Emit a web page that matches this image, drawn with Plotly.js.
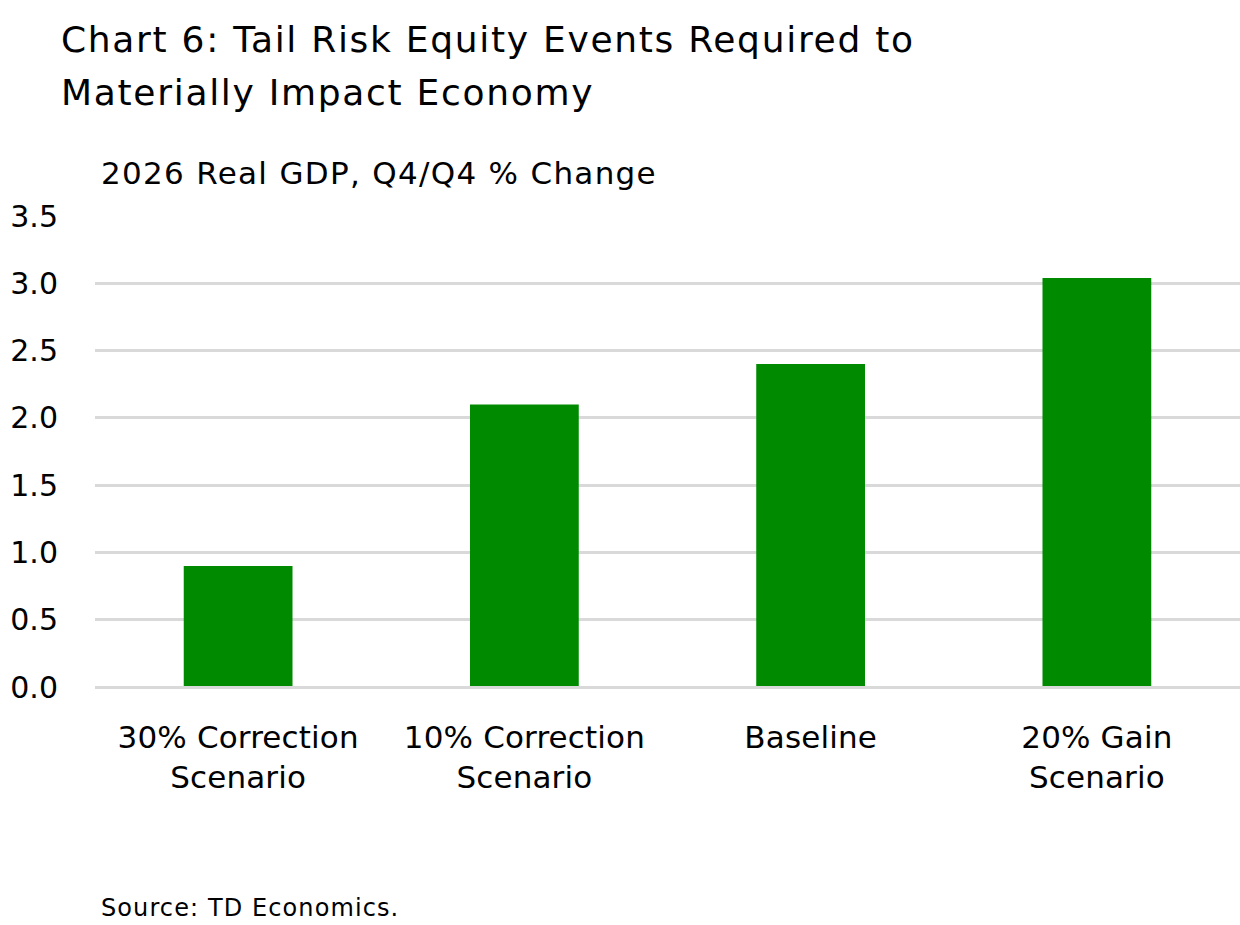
<!DOCTYPE html>
<html>
<head>
<meta charset="utf-8">
<script src="https://cdn.plot.ly/plotly-3.0.1.min.js"></script>
<style>
  html, body { margin: 0; padding: 0; background: #ffffff; }
  #chart { width: 1240px; height: 925px; }
  #chart .annotation[data-index="0"] text,
  #chart .annotation[data-index="1"] text { letter-spacing: 1.7px; }
  #chart .annotation[data-index="2"] text { letter-spacing: 1.3px; }
  #chart .annotation[data-index="3"] text { letter-spacing: 1.1px; }
  #chart .xtick text { letter-spacing: 0.15px; }
</style>
</head>
<body>
<div id="chart"></div>
<script>
const categories = ["30% Correction<br>Scenario", "10% Correction<br>Scenario", "Baseline", "20% Gain<br>Scenario"];
const gdpValues = [0.9, 2.1, 2.4, 3.04];
const yTickValues = [0, 0.5, 1.0, 1.5, 2.0, 2.5, 3.0, 3.5];
const yTickLabels = ["0.0", "0.5", "1.0", "1.5", "2.0", "2.5", "3.0", "3.5"];
const titleLine1 = "Chart 6: Tail Risk Equity Events Required to";
const titleLine2 = "Materially Impact Economy";
const subtitle = "2026 Real GDP, Q4/Q4 % Change";
const sourceText = "Source: TD Economics.";

const FONT = "'DejaVu Sans', sans-serif";

const trace = {
  type: "bar",
  x: categories,
  y: gdpValues,
  marker: { color: "#008a00" },
  hoverinfo: "x+y"
};

const layout = {
  width: 1240,
  height: 925,
  margin: { l: 95, r: 0, t: 216, b: 238 },
  paper_bgcolor: "#ffffff",
  plot_bgcolor: "#ffffff",
  showlegend: false,
  bargap: 0.62,
  font: { family: FONT, color: "#000000" },
  xaxis: {
    type: "category",
    showgrid: false,
    showline: false,
    ticks: "",
    ticklabelstandoff: 29,
    tickfont: { family: FONT, size: 31, color: "#000000" }
  },
  yaxis: {
    range: [0, 3.5],
    tickvals: yTickValues,
    ticktext: yTickLabels,
    showgrid: true,
    gridcolor: "#d9d9d9",
    gridwidth: 3,
    zeroline: true,
    zerolinecolor: "#d9d9d9",
    zerolinewidth: 3,
    zerolinelayer: "above traces",
    showline: false,
    ticks: "",
    ticklabelstandoff: 36,
    tickfont: { family: FONT, size: 30, color: "#000000" }
  },
  annotations: [
    { text: titleLine1, xref: "paper", yref: "paper", x: -36/1145, y: (687-39)/471, xanchor: "left", yanchor: "middle", align: "left", showarrow: false, font: { family: FONT, size: 36, color: "#000000" } },
    { text: titleLine2, xref: "paper", yref: "paper", x: -36/1145, y: (687-92)/471, xanchor: "left", yanchor: "middle", align: "left", showarrow: false, font: { family: FONT, size: 36, color: "#000000" } },
    { text: subtitle, xref: "paper", yref: "paper", x: 4/1145, y: (687-173)/471, xanchor: "left", yanchor: "middle", align: "left", showarrow: false, font: { family: FONT, size: 31, color: "#000000" } },
    { text: sourceText, xref: "paper", yref: "paper", x: 4/1145, y: (687-908)/471, xanchor: "left", yanchor: "middle", align: "left", showarrow: false, font: { family: FONT, size: 24, color: "#000000" } }
  ]
};

Plotly.newPlot("chart", [trace], layout, { displayModeBar: false, staticPlot: true });
</script>
</body>
</html>
